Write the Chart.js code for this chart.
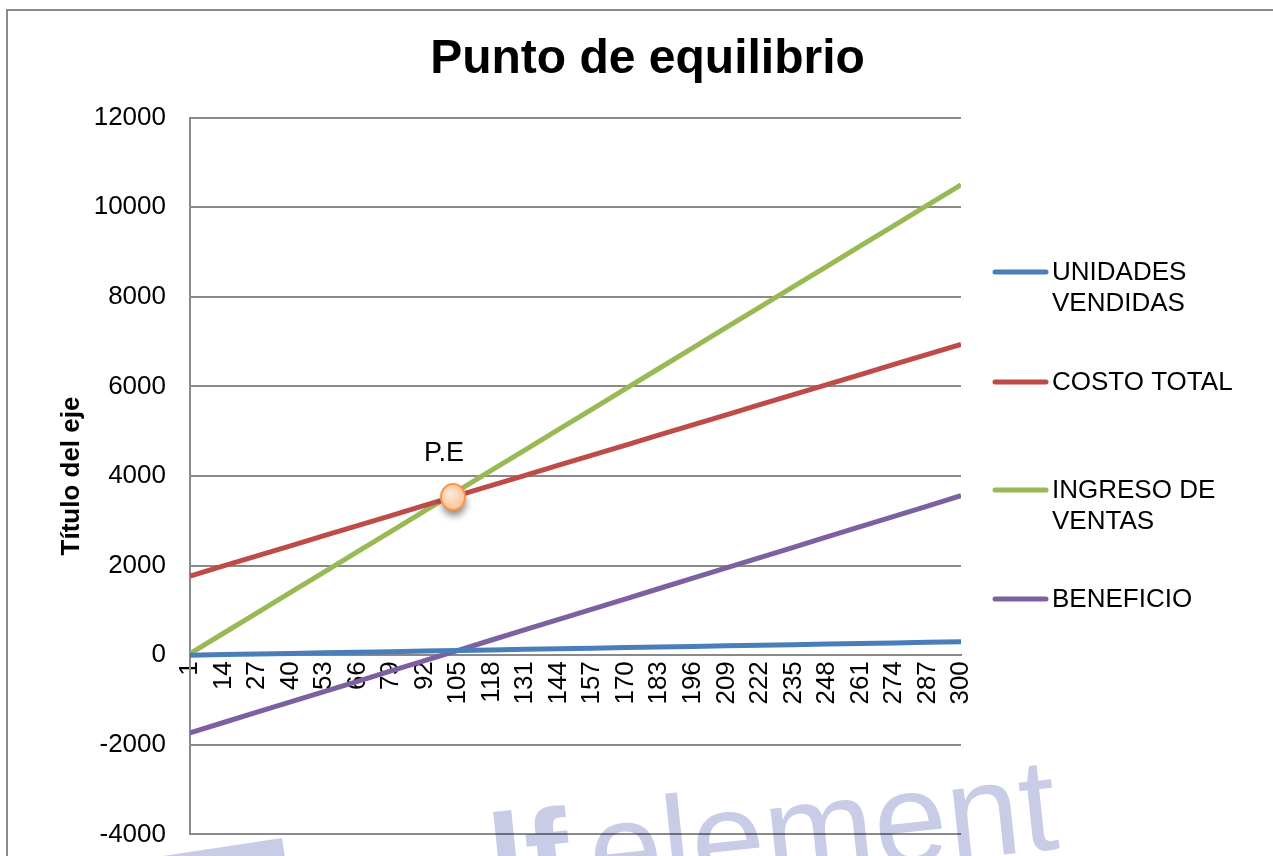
<!DOCTYPE html>
<html lang="es">
<head>
<meta charset="utf-8">
<title>Punto de equilibrio</title>
<script src="https://cdn.jsdelivr.net/npm/chart.js@4/dist/chart.umd.min.js"></script>
<style>
  html, body { margin: 0; padding: 0; background: #fff; overflow: hidden; }
  #wrap { width: 1273px; height: 856px; overflow: hidden; }
  canvas { display: block; }
</style>
</head>
<body>
<div id="wrap"><canvas id="myChart" width="1273" height="874"></canvas></div>
<script>
// Datos para la grafica
const unidadesX = [1, 14, 27, 40, 53, 66, 79, 92, 105, 118, 131, 144, 157, 170, 183, 196, 209, 222, 235, 248, 261, 274, 287, 300];
const unidadesVendidas = [1, 14, 27, 40, 53, 66, 79, 92, 105, 118, 131, 144, 157, 170, 183, 196, 209, 222, 235, 248, 261, 274, 287, 300];
const costoTotal = [1767, 1992, 2217, 2442, 2667, 2892, 3117, 3342, 3567, 3791, 4016, 4241, 4466, 4691, 4916, 5141, 5366, 5591, 5816, 6040, 6265, 6490, 6715, 6940];
const ingresoVentas = [35, 490, 945, 1400, 1855, 2310, 2765, 3220, 3675, 4130, 4585, 5040, 5495, 5950, 6405, 6860, 7315, 7770, 8225, 8680, 9135, 9590, 10045, 10500];
const beneficio = [-1732, -1502, -1272, -1042, -812, -582, -352, -122, 108, 339, 569, 799, 1029, 1259, 1489, 1719, 1949, 2179, 2409, 2640, 2870, 3100, 3330, 3560];
const yTicks = [-4000, -2000, 0, 2000, 4000, 6000, 8000, 10000, 12000];
const nombres = ['UNIDADES VENDIDAS', 'COSTO TOTAL', 'INGRESO DE VENTAS', 'BENEFICIO'];
const nombresLeyenda = [['UNIDADES', 'VENDIDAS'], ['COSTO TOTAL'], ['INGRESO DE', 'VENTAS'], ['BENEFICIO']];
const colores = ['#4a7ebb', '#be4b48', '#98b954', '#7d60a0'];
const puntoEquilibrio = { x: 103, y: 3530, etiqueta: 'P.E' };

const FONT = '"Liberation Sans", Arial, sans-serif';
const series = [unidadesVendidas, costoTotal, ingresoVentas, beneficio];

function puntos(valores) {
  return unidadesX.map((x, i) => ({ x: x, y: valores[i] }));
}

// borde del area del grafico
const bordePlugin = {
  id: 'borde',
  beforeDraw(chart) {
    const c = chart.ctx;
    c.save();
    c.strokeStyle = '#8a8a8a';
    c.lineWidth = 2;
    c.strokeRect(7, 10, chart.width + 20, chart.height + 20);
    c.restore();
  }
};

// punto de equilibrio con su etiqueta
const pePlugin = {
  id: 'puntoEq',
  afterDatasetsDraw(chart) {
    const c = chart.ctx;
    const px = chart.scales.x.getPixelForValue(puntoEquilibrio.x);
    const py = chart.scales.y.getPixelForValue(puntoEquilibrio.y);
    c.save();
    c.shadowColor = 'rgba(0,0,0,0.45)';
    c.shadowBlur = 7;
    c.shadowOffsetX = 1;
    c.shadowOffsetY = 6;
    const g = c.createRadialGradient(px - 3, py - 4, 1, px, py, 14);
    g.addColorStop(0, '#fee8d8');
    g.addColorStop(1, '#fbbf92');
    c.fillStyle = g;
    c.beginPath();
    c.ellipse(px, py, 12, 13, 0, 0, Math.PI * 2);
    c.fill();
    c.shadowColor = 'transparent';
    c.strokeStyle = '#f79646';
    c.lineWidth = 2;
    c.stroke();
    c.fillStyle = '#000';
    c.font = '27px ' + FONT;
    c.textAlign = 'center';
    c.textBaseline = 'alphabetic';
    c.fillText(puntoEquilibrio.etiqueta, px - 9, py - 36);
    c.restore();
  }
};

// leyenda a la derecha, con textos en dos lineas
const leyendaPlugin = {
  id: 'leyenda',
  afterDraw(chart) {
    const c = chart.ctx;
    const x0 = chart.chartArea.right + 32;
    const filas = [272, 382, 490, 599];
    c.save();
    c.font = '26px ' + FONT;
    c.textBaseline = 'middle';
    c.textAlign = 'left';
    chart.data.datasets.forEach((ds, i) => {
      const y = filas[i];
      c.strokeStyle = ds.borderColor;
      c.lineWidth = 5;
      c.lineCap = 'round';
      c.beginPath();
      c.moveTo(x0 + 2, y);
      c.lineTo(x0 + 53, y);
      c.stroke();
      c.fillStyle = '#000';
      nombresLeyenda[i].forEach((t, k) => c.fillText(t, x0 + 59, y + 1 + k * 31));
    });
    c.restore();
  }
};

// marca de agua
const marcaPlugin = {
  id: 'marca',
  afterDraw(chart) {
    const c = chart.ctx;
    c.save();
    c.globalCompositeOperation = 'multiply';
    c.fillStyle = 'rgb(200,204,230)';
    c.beginPath();
    c.moveTo(163, 856);
    c.lineTo(282, 838);
    c.lineTo(285, 858);
    c.lineTo(163, 858);
    c.closePath();
    c.fill();
    c.translate(494, 908);
    c.rotate(-6 * Math.PI / 180);
    c.font = 'bold 132px ' + FONT;
    c.fillText('lf', 0, 0);
    c.font = '132px ' + FONT;
    c.fillText('element', 100, 0);
    c.restore();
  }
};

const ctx = document.getElementById('myChart').getContext('2d');
const myChart = new Chart(ctx, {
  type: 'line',
  data: {
    datasets: series.map((s, i) => ({
      label: nombres[i],
      data: puntos(s),
      borderColor: colores[i],
      backgroundColor: colores[i],
      borderWidth: 5,
      pointRadius: 0,
      tension: 0,
      fill: false
    }))
  },
  options: {
    responsive: false,
    animation: false,
    layout: { padding: { left: 22, right: 0, top: 0, bottom: 4 } },
    scales: {
      x: {
        type: 'linear',
        position: { y: 0 },
        min: 1,
        max: 300,
        afterBuildTicks(scale) {
          scale.ticks = unidadesX.map(v => ({ value: v }));
        },
        grid: { display: false, drawTicks: false },
        border: { display: true, color: '#8a8a8a', width: 2 },
        ticks: {
          autoSkip: false,
          minRotation: 90,
          maxRotation: 90,
          padding: 6,
          color: '#000',
          font: { family: FONT, size: 26 }
        }
      },
      y: {
        min: -4000,
        max: 12000,
        afterBuildTicks(scale) {
          scale.ticks = yTicks.map(v => ({ value: v }));
        },
        afterFit(scale) {
          scale.width = 168;
        },
        grid: { color: '#8a8a8a', lineWidth: 2, drawTicks: false },
        border: { display: true, color: '#8a8a8a', width: 2 },
        ticks: {
          padding: 24,
          color: '#000',
          font: { family: FONT, size: 26 },
          callback: v => String(v)
        },
        title: {
          display: true,
          text: 'Título del eje',
          color: '#000',
          font: { family: FONT, size: 26, weight: 'bold' },
          padding: { top: 34, bottom: 0 }
        }
      },
      // espacio reservado para la leyenda
      derecha: {
        type: 'linear',
        axis: 'y',
        position: 'right',
        display: true,
        grid: { display: false, drawTicks: false },
        border: { display: false },
        ticks: { display: false },
        afterFit(scale) {
          scale.width = 312;
        }
      }
    },
    plugins: {
      title: {
        display: true,
        text: 'Punto de equilibrio',
        color: '#000',
        font: { family: FONT, size: 48, weight: 'bold' },
        padding: { top: 31, bottom: 29 }
      },
      legend: { display: false },
      tooltip: { enabled: false }
    }
  },
  plugins: [bordePlugin, pePlugin, leyendaPlugin, marcaPlugin]
});
</script>
</body>
</html>
